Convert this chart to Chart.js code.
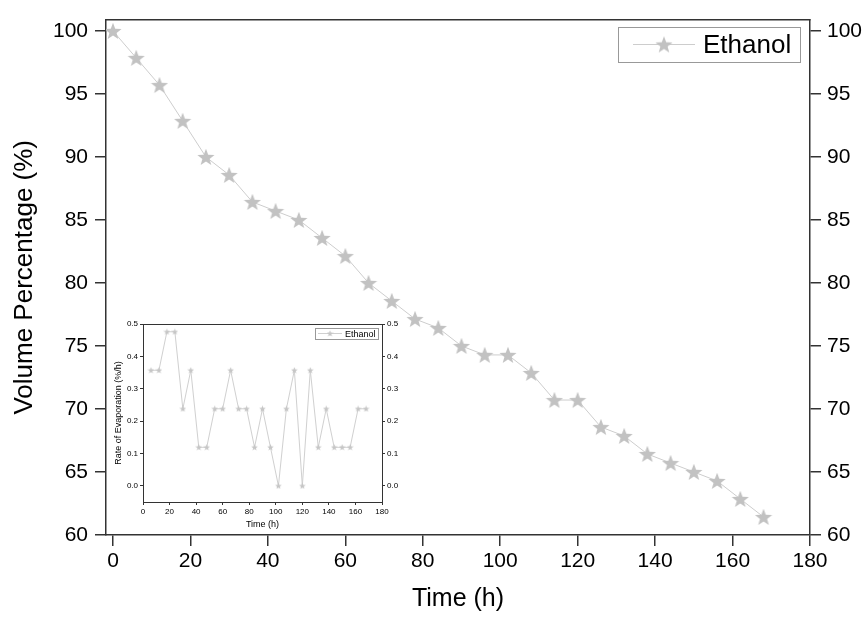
<!DOCTYPE html>
<html>
<head>
<meta charset="utf-8">
<script src="https://cdn.jsdelivr.net/npm/chart.js@4"></script>
<style>
  html, body { margin: 0; padding: 0; background: #fff; }
  #wrap { position: relative; width: 868px; height: 618px; }
  #mainChart { position: absolute; left: 0; top: 0; }
  #insetChart { position: absolute; left: 108px; top: 316px; }
</style>
</head>
<body>
<div id="wrap">
  <canvas id="mainChart" width="868" height="618"></canvas>
  <canvas id="insetChart" width="292" height="216"></canvas>
</div>
<script>
// Data
const seriesName = "Ethanol";
const hours = [0, 6, 12, 18, 24, 30, 36, 42, 48, 54, 60, 66, 72, 78, 84, 90, 96, 102, 108, 114, 120, 126, 132, 138, 144, 150, 156, 162, 168];
const volume = [100, 97.86, 95.71, 92.86, 90.0, 88.57, 86.43, 85.71, 85.0, 83.57, 82.14, 80.0, 78.57, 77.14, 76.43, 75.0, 74.29, 74.29, 72.86, 70.71, 70.71, 68.57, 67.86, 66.43, 65.71, 65.0, 64.29, 62.86, 61.43];
const rateHours = [6, 12, 18, 24, 30, 36, 42, 48, 54, 60, 66, 72, 78, 84, 90, 96, 102, 108, 114, 120, 126, 132, 138, 144, 150, 156, 162, 168];
const rate = [0.357, 0.357, 0.476, 0.476, 0.238, 0.357, 0.119, 0.119, 0.238, 0.238, 0.357, 0.238, 0.238, 0.119, 0.238, 0.119, 0, 0.238, 0.357, 0, 0.357, 0.119, 0.238, 0.119, 0.119, 0.119, 0.238, 0.238];

const FONT = "'Liberation Sans', Arial, sans-serif";
const AXIS = "#333";

// filled five point star as a point image
function starImage(size, color) {
  const c = document.createElement("canvas");
  c.width = c.height = size;
  const ctx = c.getContext("2d");
  const r = size / 2, ri = r * 0.42;
  ctx.beginPath();
  for (let i = 0; i < 10; i++) {
    const a = -Math.PI / 2 + (i * Math.PI) / 5;
    const rr = i % 2 ? ri : r;
    ctx.lineTo(r + rr * Math.cos(a), r * 1.08 + rr * Math.sin(a));
  }
  ctx.closePath();
  ctx.fillStyle = color;
  ctx.fill();
  return c;
}

// framed legend box in the top right corner of the plot
const boxLegend = {
  id: "boxLegend",
  afterDatasetsDraw(chart, args, o) {
    const ctx = chart.ctx, a = chart.chartArea;
    const ds = chart.data.datasets[0];
    const x = Math.round(a.right - o.right - o.width), y = Math.round(a.top + o.top);
    const cy = y + o.height / 2;
    ctx.save();
    ctx.fillStyle = "#fff";
    ctx.fillRect(x, y, o.width, o.height);
    ctx.strokeStyle = "#999";
    ctx.lineWidth = 1;
    ctx.strokeRect(x + 0.5, y + 0.5, o.width, o.height);
    ctx.strokeStyle = ds.borderColor;
    ctx.beginPath();
    ctx.moveTo(x + o.lineFrom, cy);
    ctx.lineTo(x + o.lineTo, cy);
    ctx.stroke();
    const img = ds.pointStyle;
    ctx.drawImage(img, x + o.starX - img.width / 2, cy - img.height / 2);
    ctx.fillStyle = "#000";
    ctx.font = o.fontSize + "px " + FONT;
    ctx.textBaseline = "middle";
    ctx.fillText(ds.label, x + o.textX, cy + 1);
    ctx.restore();
  },
};

// white plot background for the inset only
const plotBg = {
  id: "plotBg",
  beforeDraw(chart, args, o) {
    if (!o.color) return;
    const a = chart.chartArea;
    chart.ctx.save();
    chart.ctx.fillStyle = o.color;
    chart.ctx.fillRect(a.left, a.top, a.right - a.left, a.bottom - a.top);
    chart.ctx.restore();
  },
};

function fixed(prop, v) {
  return (s) => { s[prop] = v; };
}

function axis(opts) {
  return {
    type: "linear",
    position: opts.position,
    min: opts.min,
    max: opts.max,
    ticks: {
      display: opts.labels,
      stepSize: opts.step,
      includeBounds: false,
      color: "#000",
      font: { family: FONT, size: opts.fontSize },
      padding: opts.pad,
      maxRotation: 0,
      callback: opts.fmt,
    },
    grid: {
      drawOnChartArea: false,
      drawTicks: opts.labels,
      tickLength: opts.tick,
      color: AXIS,
      lineWidth: opts.lw,
    },
    border: { color: AXIS, width: opts.lw },
    title: opts.title
      ? { display: true, text: opts.title, color: "#000", font: { family: FONT, size: opts.titleSize }, padding: opts.titlePad }
      : { display: false },
    afterFit: fixed(opts.isX ? "height" : "width", opts.size),
  };
}

// Main chart
const mainStar = starImage(18, "#c2c2c2");
new Chart(document.getElementById("mainChart"), {
  type: "line",
  data: {
    datasets: [
      {
        label: seriesName,
        data: hours.map((h, i) => ({ x: h, y: volume[i] })),
        borderColor: "#cdcdcd",
        borderWidth: 1,
        pointStyle: mainStar,
        pointRadius: 8,
        tension: 0,
        fill: false,
      },
    ],
  },
  options: {
    responsive: false,
    animation: false,
    events: [],
    layout: { padding: 0 },
    plugins: {
      legend: { display: false },
      tooltip: { enabled: false },
      plotBg: {},
      boxLegend: { right: 10, top: 7, width: 182, height: 35, lineFrom: 15, lineTo: 77, starX: 46, textX: 85, fontSize: 26 },
    },
    scales: {
      x: axis({ isX: true, position: "bottom", min: -1.8, max: 180, step: 20, labels: true, fontSize: 21, pad: 3, tick: 11, lw: 1.5, size: 83, title: "Time (h)", titleSize: 25, titlePad: { top: 0, bottom: 4 } }),
      x2: axis({ isX: true, position: "top", min: -1.8, max: 180, step: 20, labels: false, fontSize: 21, pad: 0, tick: 0, lw: 1.5, size: 11 }),
      y: axis({ position: "left", min: 60, max: 100.9, step: 5, labels: true, fontSize: 21, pad: 7, tick: 11, lw: 1.5, size: 106, title: "Volume Percentage (%)", titleSize: 26, titlePad: { top: 9, bottom: 0 } }),
      y2: axis({ position: "right", min: 60, max: 100.9, step: 5, labels: true, fontSize: 21, pad: 6, tick: 11, lw: 1.5, size: 58 }),
    },
  },
  plugins: [plotBg, boxLegend],
});

// Inset chart
const insetStar = starImage(7, "#c6c6c6");
const oneDec = (v) => v.toFixed(1);
new Chart(document.getElementById("insetChart"), {
  type: "line",
  data: {
    datasets: [
      {
        label: seriesName,
        data: rateHours.map((h, i) => ({ x: h, y: rate[i] })),
        borderColor: "#d0d0d0",
        borderWidth: 1,
        pointStyle: insetStar,
        pointRadius: 3,
        tension: 0,
        fill: false,
      },
    ],
  },
  options: {
    responsive: false,
    animation: false,
    events: [],
    layout: { padding: 0 },
    plugins: {
      legend: { display: false },
      tooltip: { enabled: false },
      plotBg: { color: "#fff" },
      boxLegend: { right: 4, top: 4, width: 63, height: 11, lineFrom: 3, lineTo: 27, starX: 15, textX: 30, fontSize: 9 },
    },
    scales: {
      x: axis({ isX: true, position: "bottom", min: 0, max: 180, step: 20, labels: true, fontSize: 8, pad: 2, tick: 3, lw: 1, size: 30, title: "Time (h)", titleSize: 9, titlePad: { top: 0, bottom: 2 } }),
      x2: axis({ isX: true, position: "top", min: 0, max: 180, step: 20, labels: false, fontSize: 8, pad: 0, tick: 0, lw: 1, size: 8 }),
      y: axis({ position: "left", min: -0.05, max: 0.5, step: 0.1, labels: true, fontSize: 8, pad: 2, tick: 3, lw: 1, size: 35, fmt: oneDec, title: "Rate of Evaporation (%/h)", titleSize: 9, titlePad: { top: 5.6, bottom: 0 } }),
      y2: axis({ position: "right", min: -0.05, max: 0.5, step: 0.1, labels: true, fontSize: 8, pad: 2, tick: 3, lw: 1, size: 18, fmt: oneDec }),
    },
  },
  plugins: [plotBg, boxLegend],
});
</script>
</body>
</html>
